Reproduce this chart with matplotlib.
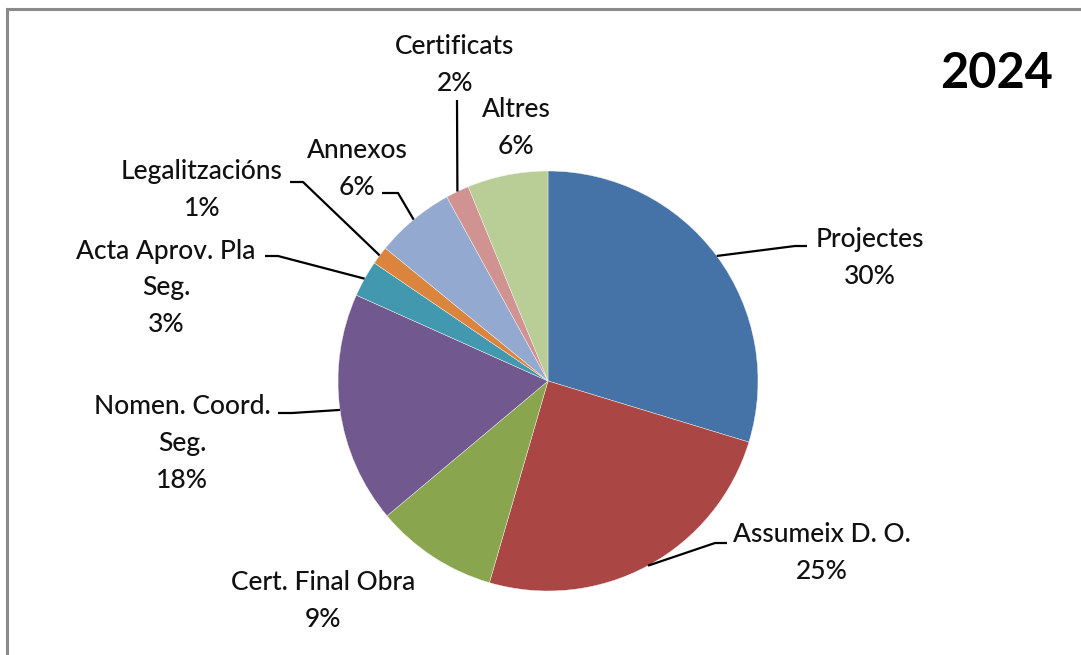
import numpy as np
from matplotlib import pyplot as plt
from matplotlib.lines import Line2D

# data (shares, percent)
categories = ["Projectes", "Assumeix D. O.", "Cert. Final Obra", "Nomen. Coord.\nSeg.",
              "Acta Aprov. Pla\nSeg.", "Legalitzacións", "Annexos", "Certificats", "Altres"]
values = [29.7, 24.8, 9.4, 17.8, 2.8, 1.4, 6.1, 1.8, 6.2]
title = "2024"

colors = ["#4572A7", "#AA4643", "#89A54E", "#71588F", "#4198AF",
          "#DB843D", "#93A9CF", "#D19392", "#B9CD96"]

W, H = 1081, 655

# label layout in pixel coords (x, y from top): text centre, leader start, leader knee
label_pos = [(870, 258), (822, 553), (323, 601), (182, 443), (166, 288),
             (202, 190), (357, 169), (455, 65), (516, 128)]
leaders = [((807, 246), (795, 246)), ((727, 543), (715, 543)), None,
           ((278, 413), (292, 413)), ((265, 256), (278, 256)),
           ((290, 182), (303, 182)), ((382, 193), (398, 193)),
           ((457, 100), (457, 100)), None]

FONT = "Lato"

fig = plt.figure(figsize=(W / 100, H / 100), dpi=100)
ax = fig.add_axes([0, 0, 1, 1])

cx, cy, r = 548, H - 381, 210
wedges, _ = ax.pie(values, colors=colors, startangle=90, counterclock=False,
                   center=(cx, cy), radius=r,
                   wedgeprops=dict(edgecolor="#f4f4f4", linewidth=0.3))

ax.set_xlim(0, W)
ax.set_ylim(0, H)
ax.set_aspect("equal")
ax.axis("off")

total = sum(values)
for i, (name, v) in enumerate(zip(categories, values)):
    pct = round(v / total * 100)
    tx, ty = label_pos[i]
    ax.text(tx, H - ty, f"{name}\n{pct}%", ha="center", va="center",
            fontsize=19, family=FONT, fontweight="medium", color="#111111",
            linespacing=1.6)
    if leaders[i] is not None:
        w = wedges[i]
        mid = np.deg2rad((w.theta1 + w.theta2) / 2)
        ex, ey = cx + r * np.cos(mid), cy + r * np.sin(mid)
        (sx, sy), (kx, ky) = leaders[i]
        ax.plot([sx, kx, ex], [H - sy, H - ky, ey], color="black", lw=1.6,
                solid_capstyle="butt")

ax.text(997, H - 73, title, ha="center", va="center", fontsize=35,
        fontweight="bold", family=FONT, color="black")

# outer frame (only left and top edges are visible in the crop)
fig.add_artist(Line2D([7.5 / W, 7.5 / W], [0, 1 - 8.5 / H], color="#8a8a8a", lw=2.2))
fig.add_artist(Line2D([6.5 / W, 1], [1 - 8.5 / H, 1 - 8.5 / H], color="#8a8a8a", lw=2.2))

fig.savefig("out.png", dpi=100)
